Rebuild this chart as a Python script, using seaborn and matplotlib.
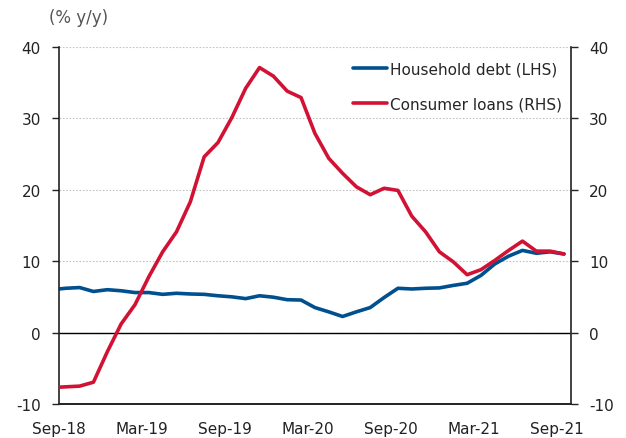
import numpy as np
import pandas as pd
import seaborn as sns
import matplotlib.pyplot as plt

# monthly observations, Aug-18 .. Sep-21 (first one sits just left of the axis)
months = pd.date_range("2018-08-01", "2021-09-01", freq="MS").strftime("%b-%y").tolist()
household_debt = [6.0, 6.2, 6.3, 5.75, 6.0, 5.85, 5.6, 5.6, 5.35, 5.5,
                  5.4, 5.35, 5.15, 5.0, 4.75, 5.15, 4.95, 4.6, 4.55, 3.5,
                  2.9, 2.25, 2.9, 3.5, 4.9, 6.2, 6.1, 6.2, 6.25, 6.6,
                  6.9, 8.0, 9.6, 10.7, 11.5, 11.1, 11.3, 11.0]
consumer_loans = [-7.7, -7.6, -7.5, -6.95, -2.7, 1.2, 3.9, 7.8, 11.3, 14.1,
                  18.3, 24.6, 26.6, 30.1, 34.2, 37.1, 35.9, 33.8, 32.9, 27.9,
                  24.4, 22.3, 20.4, 19.3, 20.2, 19.9, 16.3, 14.1, 11.3, 9.9,
                  8.1, 8.8, 10.1, 11.5, 12.8, 11.4, 11.4, 11.0]
tick_labels = ["Sep-18", "Mar-19", "Sep-19", "Mar-20", "Sep-20", "Mar-21", "Sep-21"]
y_ticks = [-10, 0, 10, 20, 30, 40]

# points plotted mid-month, ticks at the start of the month
df = pd.DataFrame({
    "pos": np.arange(len(months)) - 0.5,
    "month": months,
    "household": household_debt,
    "consumer": consumer_loans,
})

sns.set_style("white")
plt.rcParams["font.family"] = ["DejaVu Sans"]
plt.rcParams["axes.unicode_minus"] = False

BLUE = "#00508f"
RED = "#d21235"
INK = "#222222"

fig = plt.figure(figsize=(6.26, 4.39), dpi=100)
ax = fig.add_axes([0.094, 0.0775, 0.818, 0.8135])
ax2 = ax.twinx()

ax.yaxis.grid(True, linestyle=(0, (1.5, 1.5)), color="#c4c4c4", linewidth=0.8)
ax.set_axisbelow(True)
ax.axhline(0, color="black", linewidth=1.0, zorder=1)

sns.lineplot(data=df, x="pos", y="household", ax=ax, color=BLUE, linewidth=2.6,
             label="Household debt (LHS)", legend=False)
sns.lineplot(data=df, x="pos", y="consumer", ax=ax2, color=RED, linewidth=2.6,
             label="Consumer loans (RHS)", legend=False)

for a in (ax, ax2):
    a.set_ylim(-10, 40)
    a.set_yticks(y_ticks)
    a.set_xlim(0, 37)
    a.set_xlabel("")
    a.set_ylabel("")
    a.spines["top"].set_visible(False)
    for s in ("left", "right", "bottom"):
        a.spines[s].set_color(INK)
        a.spines[s].set_linewidth(1.2)

ax.spines["right"].set_visible(False)
ax2.spines["left"].set_visible(False)

ax.set_xticks(np.arange(0, 37, 6))
ax.set_xticklabels(tick_labels)
ax.tick_params(axis="both", direction="out", length=5, width=1.0, color=INK,
               labelsize=11, labelcolor=INK)
ax.tick_params(axis="y", pad=8)
ax.tick_params(axis="x", pad=7)
ax2.tick_params(axis="y", direction="out", length=5, width=1.0, color=INK,
                labelsize=11, labelcolor=INK, pad=8)

fig.text(0.078, 0.96, "(% y/y)", fontsize=12, color="#555555", ha="left", va="center")

h1, l1 = ax.get_legend_handles_labels()
h2, l2 = ax2.get_legend_handles_labels()
ax2.legend(h1 + h2, l1 + l2, loc="upper right", bbox_to_anchor=(1.0, 0.985),
           frameon=False, fontsize=11, handlelength=2.2, handletextpad=0.2,
           labelspacing=1.3, borderaxespad=0.2)

plt.savefig("out.png", dpi=100)
plt.close()
